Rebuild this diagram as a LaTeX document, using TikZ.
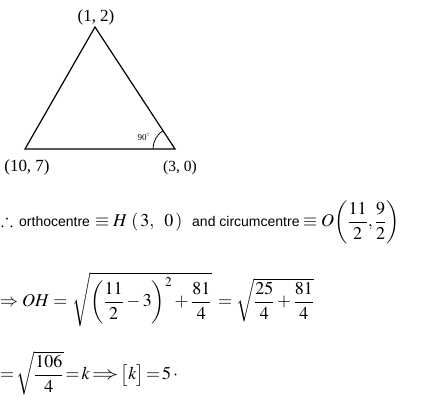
\documentclass[tikz,border=0pt]{standalone}
\usepackage{amsmath, amssymb}
\usepackage{graphicx}
\usepackage{mathptmx}
\usepackage{fontspec}
\setmainfont{Liberation Serif}
\setsansfont{Liberation Sans}
\usetikzlibrary{positioning}

\newcommand{\widerarrow}{\mathrel{\scalebox{1.5}[1]{$\Rightarrow$}}}

\tikzset{
  vertex label/.style={font=\fontsize{17}{20}\selectfont},
  eqline/.style={anchor=base west, inner sep=0pt, font=\fontsize{18}{21}\selectfont},
  words/.style={anchor=base west, inner sep=0pt, font=\sffamily\fontsize{14}{16}\selectfont},
}

\begin{document}
\begin{tikzpicture}[x=1pt, y=-1pt]
                \useasboundingbox (0,0) rectangle (424,409);
                % triangle
                \coordinate (A) at (95,27);
                \coordinate (B) at (25,149);
                \coordinate (C) at (175,149);
                \draw[line width=1.2pt] (A) -- (B) -- (C) -- cycle;
                \draw[line width=0.8pt] ([xshift=-22pt]C) arc (180:237:22);
                \node[vertex label] (lblA) at (96,17) {(1, 2)};
                \node[vertex label] (lblB) at (27,167) {(10, 7)};
                \node[vertex label, font=\fontsize{15.5}{18}\selectfont] (lblC) at (180,168) {(3, 0)};
                \node[inner sep=0pt, font=\fontsize{9}{10}\selectfont] (ang) at (144,137) {90$^\circ$};
                % working
                \node[eqline] (therefore) at (1,227) {$\therefore$};
                \node[words] (ortho) at (19,227) {orthocentre};
                \node[eqline] (Hpt) at (95,227) {$\equiv H\,\left(\,3,\;\;0\,\right)$};
                \node[words] (andcirc) at (192,227) {and circumcentre};
                \node[eqline] (Opt) at (303,227) {$\equiv O\!\left(\dfrac{11}{2},\dfrac{9}{2}\right)$};
                \node[eqline] (implies) at (0,307) {$\Rightarrow OH =$};
                \node[eqline] (rootA) at (72,307) {$\sqrt{\left(\dfrac{11}{2}-3\right)^{2}+\dfrac{81}{4}}$};
                \node[eqline] (rootB) at (218,307) {$=\sqrt{\dfrac{25}{4}+\dfrac{81}{4}}$};
                \node[eqline] (result) at (0,380) {$\thickmuskip=2mu =\sqrt{\dfrac{106}{4}}=k\widerarrow\big[k\big]=5\;\cdot$};
            \end{tikzpicture}
\end{document}
